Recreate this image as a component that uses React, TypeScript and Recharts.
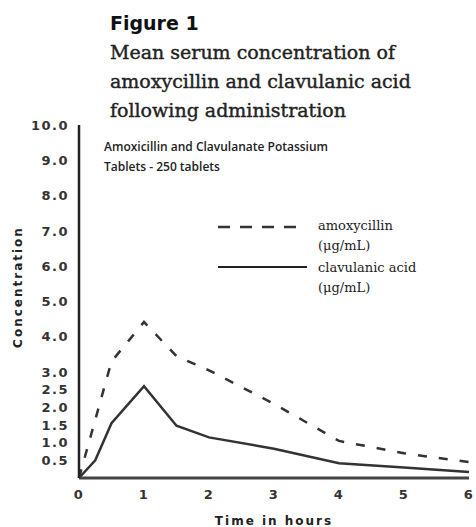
import { LineChart, Line, XAxis, YAxis, Legend } from 'recharts'

// time after dose (hours)
const hours = [0, 0.25, 0.5, 1, 1.5, 2, 3, 4, 5, 6]
// mean serum concentration, ug/mL
const amoxicillin = [0, 1.65, 3.3, 4.42, 3.45, 3.05, 2.1, 1.05, 0.7, 0.45]
const clavulanicAcid = [0, 0.5, 1.55, 2.6, 1.48, 1.15, 0.83, 0.42, 0.3, 0.17]

const yTicks = [0.5, 1, 1.5, 2, 2.5, 3, 4, 5, 6, 7, 8, 9, 10]
const xTicks = [0, 1, 2, 3, 4, 5, 6]

const titleLines = [
  'Mean serum concentration of',
  'amoxycillin and clavulanic acid',
  'following administration',
]
const subtitleLines = ['Amoxicillin and Clavulanate Potassium', 'Tablets - 250 tablets']

const data = hours.map((t, i) => ({
  t,
  amox: amoxicillin[i],
  clav: clavulanicAcid[i],
}))

const serif = '"DejaVu Serif", serif'
const sans = '"DejaVu Sans", sans-serif'
const tickStyle = {
  fontSize: 13,
  fontWeight: 'bold',
  fill: '#333',
  fontFamily: sans,
  letterSpacing: 1.5,
}

const renderLegend = () => (
  <svg width={220} height={90}>
    <line x1={6} y1={15} x2={86} y2={15} stroke='#333' strokeWidth={2.5} strokeDasharray='12 10' />
    <text x={106} y={18} fontFamily={serif} fontSize={13} fill='#222'>amoxycillin</text>
    <text x={106} y={38} fontFamily={serif} fontSize={13} fill='#222'>(μg/mL)</text>
    <line x1={6} y1={55} x2={95} y2={55} stroke='#222' strokeWidth={2} />
    <text x={106} y={60} fontFamily={serif} fontSize={13} fill='#222'>clavulanic acid</text>
    <text x={106} y={80} fontFamily={serif} fontSize={13} fill='#222'>(μg/mL)</text>
  </svg>
)

export default function App() {
  return (
    <div style={{ position: 'relative', width: 476, height: 527, overflow: 'hidden', background: '#fff' }}>
      <style>{'body{margin:0}'}</style>
      <LineChart width={496} height={527} data={data} margin={{ top: 125, right: 27, bottom: 4, left: 13 }}>
        <XAxis
          dataKey='t'
          type='number'
          domain={[0, 6]}
          ticks={xTicks}
          tickLine={false}
          axisLine={{ stroke: '#444', strokeWidth: 3 }}
          tick={tickStyle}
          tickMargin={6}
          height={45}
          label={{
            value: 'Time in hours',
            position: 'insideBottom',
            offset: -2,
            style: { ...tickStyle, fontSize: 12, letterSpacing: 2, fill: '#222' },
          }}
        />
        <YAxis
          type='number'
          domain={[0, 10]}
          ticks={yTicks}
          interval={0}
          tickFormatter={(v: number) => v.toFixed(1)}
          tickLine={false}
          axisLine={{ stroke: '#222', strokeWidth: 2.5 }}
          tick={tickStyle}
          tickMargin={4}
          width={66}
        />
        <Legend
          layout='vertical'
          align='center'
          verticalAlign='middle'
          content={renderLegend}
          wrapperStyle={{ top: 212, left: 212, width: 220, height: 90 }}
        />
        <Line
          dataKey='amox'
          name='amoxycillin (μg/mL)'
          type='linear'
          stroke='#333'
          strokeWidth={2.5}
          strokeDasharray='9 12'
          dot={false}
          isAnimationActive={false}
        />
        <Line
          dataKey='clav'
          name='clavulanic acid (μg/mL)'
          type='linear'
          stroke='#333'
          strokeWidth={2.5}
          dot={false}
          isAnimationActive={false}
        />
      </LineChart>
      <svg width={476} height={527} style={{ position: 'absolute', left: 0, top: 0, pointerEvents: 'none' }}>
        <text x={110} y={30} fontFamily={sans} fontWeight='bold' fontSize={19} fill='#111'>Figure 1</text>
        {titleLines.map((s, i) => (
          <text key={s} x={110} y={59 + i * 29} fontFamily={serif} fontSize={19} fill='#222' stroke='#222' strokeWidth={0.4}>{s}</text>
        ))}
        {subtitleLines.map((s, i) => (
          <text key={s} x={104} y={151 + i * 20} fontFamily='"Open Sans", sans-serif' fontWeight={600} fontSize={12} fill='#222'>{s}</text>
        ))}
        <text
          x={0}
          y={0}
          transform='translate(22 287) rotate(-90)'
          textAnchor='middle'
          fontFamily={sans}
          fontWeight='bold'
          fontSize={12}
          letterSpacing={2}
          fill='#222'
        >
          Concentration
        </text>
      </svg>
    </div>
  )
}
